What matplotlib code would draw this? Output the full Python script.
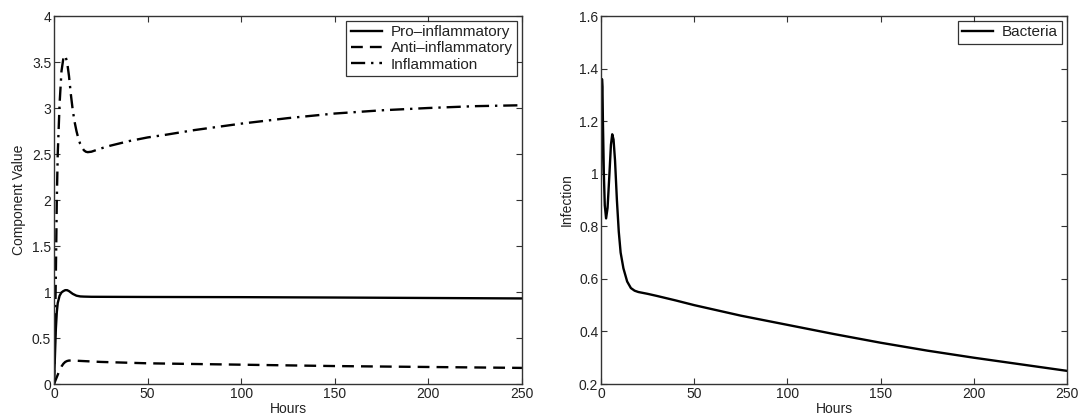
import matplotlib
matplotlib.use("Agg")
import matplotlib.pyplot as plt

plt.rcParams['font.family'] = ['Liberation Sans', 'DejaVu Sans']

# ---- Left panel data (hours, value) ----
infl_t = [0, 0.5, 1, 1.5, 2, 3, 4, 5, 6, 7, 8, 9, 10, 11, 12, 13, 14, 15, 16, 17,
          18, 20, 25, 30, 40, 50, 60, 75, 100, 125, 150, 175, 200, 225, 250]
infl_v = [0, 0.5, 1.2, 2.0, 2.5, 3.05, 3.4, 3.54, 3.57, 3.5, 3.35, 3.15, 2.98, 2.85,
          2.75, 2.67, 2.61, 2.57, 2.54, 2.525, 2.52, 2.525, 2.56, 2.59, 2.64, 2.68,
          2.71, 2.76, 2.83, 2.89, 2.94, 2.975, 3.0, 3.02, 3.03]

pro_t = [0, 0.5, 1, 1.5, 2, 3, 4, 5, 6, 7, 8, 9, 10, 12, 14, 16, 20, 50, 100, 150, 200, 250]
pro_v = [0, 0.3, 0.6, 0.78, 0.88, 0.96, 0.995, 1.01, 1.02, 1.02, 1.01, 0.995, 0.98,
         0.96, 0.952, 0.95, 0.948, 0.946, 0.944, 0.94, 0.935, 0.93]

anti_t = [0, 1, 2, 3, 4, 5, 6, 7, 8, 10, 15, 25, 50, 100, 150, 200, 250]
anti_v = [0, 0.05, 0.1, 0.15, 0.19, 0.22, 0.24, 0.25, 0.255, 0.255, 0.25, 0.24,
          0.225, 0.21, 0.195, 0.185, 0.175]

# ---- Right panel data ----
bac_t = [0, 0.25, 0.5, 0.75, 1, 1.5, 2, 2.7, 3.5, 4.5, 5.3, 6, 6.7, 7.5, 8.5, 9.5,
         10.5, 12, 14, 16, 18, 20, 25, 30, 40, 50, 75, 100, 125, 150, 175, 200, 225, 250]
bac_v = [1.0, 1.2, 1.36, 1.33, 1.2, 1.0, 0.88, 0.83, 0.87, 1.0, 1.11, 1.15, 1.13, 1.05,
         0.9, 0.78, 0.7, 0.64, 0.59, 0.565, 0.555, 0.55, 0.543, 0.535, 0.518, 0.5,
         0.46, 0.425, 0.39, 0.357, 0.327, 0.3, 0.275, 0.25]

left_yticks = [0, 0.5, 1, 1.5, 2, 2.5, 3, 3.5, 4]
left_ylabels = ['0', '0.5', '1', '1.5', '2', '2.5', '3', '3.5', '4']
right_yticks = [0.2, 0.4, 0.6, 0.8, 1.0, 1.2, 1.4, 1.6]
right_ylabels = ['0.2', '0.4', '0.6', '0.8', '1', '1.2', '1.4', '1.6']
xticks = [0, 50, 100, 150, 200, 250]

fig = plt.figure(figsize=(10.82, 4.2), dpi=100)
ax1 = fig.add_axes([0.0499, 0.0857, 0.4325, 0.8762])
ax2 = fig.add_axes([0.5555, 0.0857, 0.4307, 0.8762])

edge = '#333333'
txt = '#222222'
lw = 1.7

ax1.plot(pro_t, pro_v, color='black', lw=lw, ls='-', label='Pro\u2013inflammatory')
ax1.plot(anti_t, anti_v, color='black', lw=lw, ls=(0, (5, 3)), label='Anti\u2013inflammatory')
ax1.plot(infl_t, infl_v, color='black', lw=lw, ls=(0, (6, 2.5, 1, 2.5)), label='Inflammation')
ax1.set_xlim(0, 250)
ax1.set_ylim(0, 4)
ax1.set_yticks(left_yticks)
ax1.set_yticklabels(left_ylabels)
ax1.set_ylabel('Component Value', fontsize=10, color=txt, labelpad=4)

ax2.plot(bac_t, bac_v, color='black', lw=lw, label='Bacteria')
ax2.set_xlim(0, 250)
ax2.set_ylim(0.2, 1.6)
ax2.set_yticks(right_yticks)
ax2.set_yticklabels(right_ylabels)
ax2.set_ylabel('Infection', fontsize=10, color=txt, labelpad=4)

for ax in (ax1, ax2):
    ax.set_xticks(xticks)
    ax.set_xlabel('Hours', fontsize=10, color=txt, labelpad=1)
    ax.tick_params(direction='in', top=True, right=True, length=4, width=0.8,
                   colors=edge, labelcolor=txt, labelsize=10, pad=2)
    for s in ax.spines.values():
        s.set_color(edge)
        s.set_linewidth(1.0)
    leg = ax.legend(loc='upper right', fontsize=11, frameon=True, fancybox=False,
                    borderaxespad=0.3, handlelength=2.0, handletextpad=0.6,
                    borderpad=0.3, labelspacing=0.15)
    leg.get_frame().set_edgecolor('black')
    leg.get_frame().set_linewidth(0.9)
    for t in leg.get_texts():
        t.set_color(txt)

fig.savefig('out.png', dpi=100)
